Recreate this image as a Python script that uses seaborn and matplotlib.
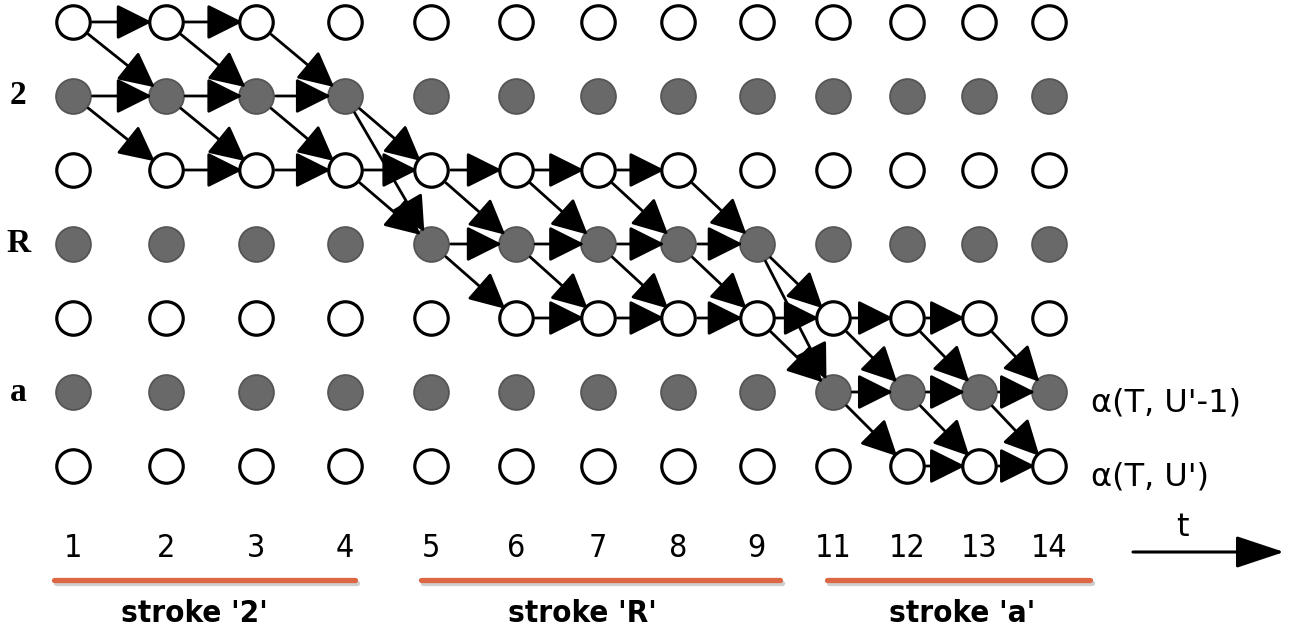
import numpy as np
import pandas as pd
import matplotlib
matplotlib.use("Agg")
import matplotlib.pyplot as plt
import matplotlib.patheffects as pe
from matplotlib.transforms import blended_transform_factory
import seaborn as sns

# --- data -------------------------------------------------------------
frames = ['1', '2', '3', '4', '5', '6', '7', '8', '9', '11', '12', '13', '14']
states = ['', '2', '', 'R', '', 'a', '']          # '' = blank row
strokes = ["stroke '2'", "stroke 'R'", "stroke 'a'"]
stroke_first = [0, 4, 9]
stroke_last = [3, 8, 12]
end_labels = ["\u03b1(T, U'-1)", "\u03b1(T, U')"]
end_rows = [5, 6]

# allowed transitions (row_from, frame_from, row_to, frame_to)
paths = [
    (0, 0, 0, 1), (0, 1, 0, 2), (0, 0, 1, 1), (0, 1, 1, 2), (0, 2, 1, 3),
    (1, 0, 1, 1), (1, 1, 1, 2), (1, 2, 1, 3),
    (1, 0, 2, 1), (1, 1, 2, 2), (1, 2, 2, 3), (1, 3, 2, 4), (1, 3, 3, 4),
    (2, 1, 2, 2), (2, 2, 2, 3), (2, 3, 2, 4), (2, 3, 3, 4),
    (2, 4, 2, 5), (2, 5, 2, 6), (2, 6, 2, 7),
    (2, 4, 3, 5), (2, 5, 3, 6), (2, 6, 3, 7), (2, 7, 3, 8),
    (3, 4, 3, 5), (3, 5, 3, 6), (3, 6, 3, 7), (3, 7, 3, 8),
    (3, 4, 4, 5), (3, 5, 4, 6), (3, 6, 4, 7), (3, 7, 4, 8),
    (3, 8, 4, 9), (3, 8, 5, 9),
    (4, 5, 4, 6), (4, 6, 4, 7), (4, 7, 4, 8), (4, 8, 4, 9), (4, 9, 4, 10), (4, 10, 4, 11),
    (4, 8, 5, 9), (4, 9, 5, 10), (4, 10, 5, 11), (4, 11, 5, 12),
    (5, 9, 5, 10), (5, 10, 5, 11), (5, 11, 5, 12),
    (5, 9, 6, 10), (5, 10, 6, 11), (5, 11, 6, 12),
    (6, 10, 6, 11), (6, 11, 6, 12),
]

# --- style ------------------------------------------------------------
sns.set_theme(style="white")
plt.rcParams['font.family'] = ['DejaVu Sans']
plt.rcParams['text.color'] = 'black'
COND = dict(family=['DejaVu Sans'], fontstretch='condensed')
pad_left = [0.2, 0.12, 0.08]
pad_right = [0.12, 0.3, 0.6]
label_shift = [-0.12, -0.22, 0.05]

nodes = pd.DataFrame([(r, c, 'blank' if s == '' else 'label')
                      for r, s in enumerate(states) for c in range(len(frames))],
                     columns=['row', 'frame', 'kind'])

fig = plt.figure(figsize=(12.9, 6.34), dpi=100)
ax = fig.add_axes([0, 0, 1, 1])

# frames get slightly closer together to the right, as in the drawing
K = 0.011
def fwd(x):
    x = np.asarray(x, float)
    return x - K * x ** 2
def inv(y):
    y = np.minimum(np.asarray(y, float), 0.25 / K)
    return (1 - np.sqrt(1 - 4 * K * y)) / (2 * K)
ax.set_xscale('function', functions=(fwd, inv))

sns.scatterplot(data=nodes[nodes.kind == 'blank'], x='frame', y='row', ax=ax,
                color='white', edgecolor='black', linewidth=2.3, s=580,
                zorder=2, legend=False)
sns.scatterplot(data=nodes[nodes.kind == 'label'], x='frame', y='row', ax=ax,
                color='#696969', edgecolor='#555555', linewidth=1.3, s=630,
                zorder=2, legend=False)

for r0, c0, r1, c1 in paths:
    ax.annotate('', xy=(c1, r1), xytext=(c0, r0),
                arrowprops=dict(arrowstyle='-|>,head_length=1.1,head_width=0.55',
                                mutation_scale=20, lw=2.0, color='black',
                                shrinkA=14, shrinkB=10),
                zorder=3)

# frame numbers
for c, f in enumerate(frames):
    ax.text(c, 7.11, f, ha='center', va='center', fontsize=23, **COND)

# stroke underlines + names
for i, (name, c0, c1) in enumerate(zip(strokes, stroke_first, stroke_last)):
    x0, x1 = c0 - pad_left[i], c1 + pad_right[i]
    ax.plot([x0, x1], [7.54, 7.54], color='#dd6643', lw=3.8,
            solid_capstyle='round',
            path_effects=[pe.SimpleLineShadow(offset=(1.5, -2.5), shadow_color='#777777', alpha=0.35),
                          pe.Normal()])
    xm = inv((fwd(x0) + fwd(x1)) / 2) + label_shift[i]
    ax.text(xm, 7.99, name, ha='center', va='center',
            fontsize=22.5, fontweight='bold', **COND)

# row labels on the left
left = blended_transform_factory(ax.transAxes, ax.transData)
for r, s in enumerate(states):
    if s:
        ax.text(0.014, r, s, transform=left, ha='center', va='center',
                fontsize=24, fontweight='bold', family=['Liberation Serif', 'DejaVu Serif'])

# alpha labels on the right
for lab, r in zip(end_labels, end_rows):
    ax.text(0.846, r + 0.15, lab, transform=left, ha='left', va='center', fontsize=23)

# time arrow
ax.annotate('', xy=(1284, 82), xytext=(1133, 82), xycoords='figure pixels',
            textcoords='figure pixels',
            arrowprops=dict(arrowstyle='-|>,head_length=1.5,head_width=0.5',
                            mutation_scale=20, lw=2.2, color='black',
                            shrinkA=0, shrinkB=0))
ax.text(1182, 106, 't', transform=None, ha='center', va='center', fontsize=23)

ax.set_xlim(-0.773, 15.70)
ax.set_ylim(8.27, -0.297)
ax.axis('off')

fig.savefig('out.png', dpi=100)
